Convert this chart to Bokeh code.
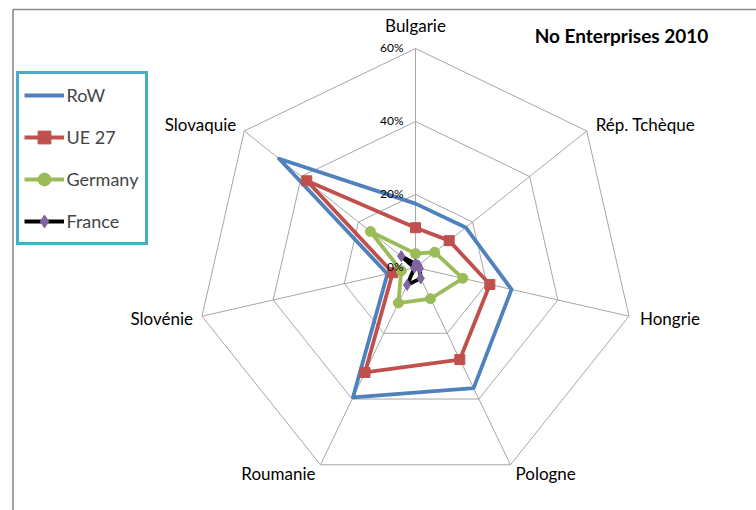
import math
from bokeh.plotting import figure
from bokeh.models import Range1d, Legend, LegendItem
from bokeh.core.properties import value
from bokeh.embed import file_html
from bokeh.resources import INLINE

# ---------------- data ----------------
categories = ["Bulgarie", "Rép. Tchèque", "Hongrie", "Pologne", "Roumanie", "Slovénie", "Slovaquie"]
row = [17.5, 17.6, 27.0, 36.7, 39.5, 7.9, 47.8]
ue27 = [10.9, 11.8, 20.9, 28.0, 31.9, 6.4, 38.1]
germany = [3.8, 6.7, 13.3, 9.5, 10.8, 4.0, 15.8]
france = [1.0, 1.0, 1.2, 3.3, 5.3, 0.3, 5.0]
series_names = ["RoW", "UE 27", "Germany", "France"]
ring_values = [0, 20, 40, 60]
ring_labels = ["0%", "20%", "40%", "60%"]
title_text = "No Enterprises 2010"

# ---------------- layout ----------------
W, H = 756, 510
OX, OY = 0, 0              # page px of the figure's top-left corner
CX, CY = 415, 267          # page px of the radar centre
SCALE = 219 / 60           # px per percentage point
FONT = "Lato"


def px(xp):
    return (xp - CX) / SCALE


def py(yp):
    return (CY - yp) / SCALE


p = figure(width=W, height=H,
           x_range=Range1d(px(OX), px(OX + W)), y_range=Range1d(py(OY + H), py(OY)),
           x_axis_type=None, y_axis_type=None,
           output_backend="svg", toolbar_location=None, min_border=0)
p.outline_line_color = None
p.grid.visible = False
p.background_fill_color = "white"

n = len(categories)
angles = [2 * math.pi * k / n for k in range(n)]


def polar(vals):
    xs = [v * math.sin(a) for v, a in zip(vals, angles)]
    ys = [v * math.cos(a) for v, a in zip(vals, angles)]
    return xs, ys


rmax = max(ring_values)
grid_col = "#a6a6a6"
# spokes
vx, vy = polar([rmax] * n)
p.segment(x0=[0] * n, y0=[0] * n, x1=vx, y1=vy, line_color=grid_col, line_width=1)
# rings
for rv in ring_values[1:]:
    xs, ys = polar([rv] * n)
    p.line(xs + xs[:1], ys + ys[:1], line_color=grid_col, line_width=1)

# frame of the embedded chart (left and top edge)
p.segment(x0=[px(12.5), px(12.5)], y0=[py(9), py(9)], x1=[px(12.5), px(760)], y1=[py(520), py(9)],
          line_color="#8c8c8c", line_width=1.6)

# series
colors = ["#4F81BD", "#C0504D", "#9BBB59", "#000000"]
mcolors = [None, "#C0504D", "#9BBB59", "#8064A2"]
markers = [None, "square", "circle", "diamond"]
msizes = [0, 10, 10, 11]
items = []
for name, vals, c, mc, mk, ms in zip(series_names, [row, ue27, germany, france], colors, mcolors, markers, msizes):
    xs, ys = polar(vals)
    lr = p.line(xs + xs[:1], ys + ys[:1], line_color=c, line_width=3.8, line_join="round")
    rs = [lr]
    if mk:
        sr = p.scatter(xs, ys, marker=mk, size=ms, fill_color=mc, line_color=mc)
        rs.append(sr)
    items.append(LegendItem(label=name, renderers=rs))

# tick labels on the top spoke
p.text(x=[px(403)] * len(ring_values), y=ring_values, text=ring_labels,
       text_font=value(FONT), text_font_size="12px", text_color="#000000",
       text_align="right", text_baseline="middle", y_offset=-1)

# category labels
lx, ly = polar([rmax] * n)
aligns = ["center", "left", "left", "left", "right", "right", "right"]
xoffs = [0, 9, 11, 5, -5, -9, -8]
yoffs = [-23, -6, 2, 9, 9, 2, -6]
for i in range(n):
    p.text(x=[lx[i]], y=[ly[i]], text=[categories[i]], text_font=value(FONT),
           text_font_size="17px", text_color="#000000", text_align=aligns[i],
           text_baseline="middle", x_offset=xoffs[i], y_offset=yoffs[i])

# title
p.text(x=[px(621)], y=[py(35)], text=[title_text], text_font=value(FONT),
       text_font_size="19px", text_font_style="bold", text_color="#000000",
       text_align="center", text_baseline="middle")

legend = Legend(items=items, location=(15.5, H - 244.5),
                border_line_color="#4BACC6", border_line_width=3, border_line_alpha=1.0,
                background_fill_color="white", background_fill_alpha=1,
                padding=5, spacing=10, glyph_width=40, glyph_height=32,
                label_height=32, label_width=73, label_standoff=3, margin=0,
                label_text_font=FONT, label_text_font_size="18px")
p.add_layout(legend)

open("out.html", "w").write(file_html(p, INLINE))
